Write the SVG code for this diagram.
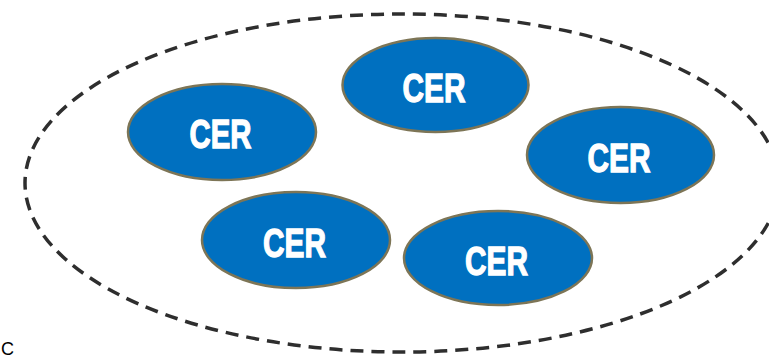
<svg xmlns="http://www.w3.org/2000/svg" width="769" height="361" viewBox="0 0 769 361">
<style>
.cer{fill:#0070C0;stroke:#7d7556;stroke-width:2.5}
.lbl{fill:#ffffff;stroke:#ffffff;stroke-width:1.3;font-family:"Liberation Sans",Arial,sans-serif;font-weight:bold;font-size:40px;text-anchor:middle}
.outer{fill:none;stroke:#2e2e2e;stroke-width:3.5;stroke-dasharray:13 8}
</style>
<rect width="769" height="361" fill="#ffffff"/>
<g id="group">
<ellipse class="outer" cx="402" cy="183" rx="377" ry="169"/>
</g>
<g id="cer-top">
<ellipse class="cer" cx="435.5" cy="85" rx="93" ry="47"/>
<text class="lbl" x="434" y="102" textLength="63" lengthAdjust="spacingAndGlyphs">CER</text>
</g>
<g id="cer-left">
<ellipse class="cer" cx="222" cy="132" rx="94" ry="48"/>
<text class="lbl" x="220.5" y="148" textLength="62" lengthAdjust="spacingAndGlyphs">CER</text>
</g>
<g id="cer-right">
<ellipse class="cer" cx="620.5" cy="155" rx="93.5" ry="48"/>
<text class="lbl" x="619" y="172" textLength="63" lengthAdjust="spacingAndGlyphs">CER</text>
</g>
<g id="cer-bottom-left">
<ellipse class="cer" cx="296" cy="240" rx="94" ry="48"/>
<text class="lbl" x="294.5" y="257" textLength="63" lengthAdjust="spacingAndGlyphs">CER</text>
</g>
<g id="cer-bottom-right">
<ellipse class="cer" cx="498" cy="258" rx="94" ry="47"/>
<text class="lbl" x="496.5" y="275" textLength="63" lengthAdjust="spacingAndGlyphs">CER</text>
</g>
<g id="connectors"></g>
<text x="1" y="355" font-family="'Liberation Sans',Arial,sans-serif" font-size="18" fill="#000000">C</text>
</svg>
